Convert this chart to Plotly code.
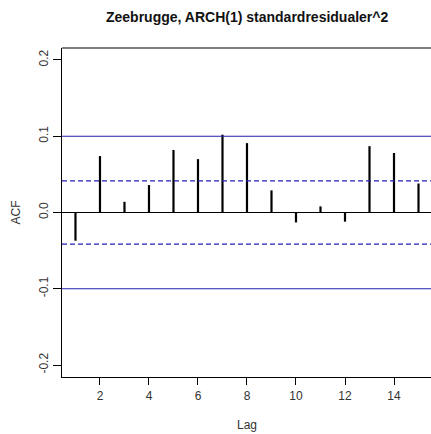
import plotly.graph_objects as go

# Sample autocorrelations of squared standardized ARCH(1) residuals
lags = list(range(1, 16))
acf_vals = [-0.037, 0.074, 0.014, 0.036, 0.082, 0.070, 0.102, 0.091,
            0.029, -0.013, 0.008, -0.012, 0.087, 0.078, 0.038]
ci_band = 0.0415          # approximate 95% white-noise bound
ref_band = 0.1            # solid reference lines
y_ticks = [-0.2, -0.1, 0.0, 0.1, 0.2]
y_tick_text = ["-0.2", "-0.1", "0.0", "0.1", "0.2"]
x_ticks = [2, 4, 6, 8, 10, 12, 14]

# Vertical spikes from zero to each autocorrelation
xs, ys = [], []
for lag, v in zip(lags, acf_vals):
    xs += [lag, lag, None]
    ys += [0, v, None]

fig = go.Figure()
fig.add_trace(go.Scatter(x=xs, y=ys, mode="lines",
                         line=dict(color="black", width=2.2),
                         hoverinfo="skip", showlegend=False))

blue = "#2020b0"
shapes = [
    # top border of the plot box
    dict(type="line", xref="paper", x0=0, x1=1, yref="paper", y0=1, y1=1,
         line=dict(color="black", width=1.2)),
    dict(type="line", xref="paper", x0=0, x1=1, yref="y", y0=0, y1=0,
         line=dict(color="black", width=1)),
]
for s in (1, -1):
    shapes.append(dict(type="line", xref="paper", x0=0, x1=1, yref="y",
                       y0=s * ref_band, y1=s * ref_band,
                       line=dict(color=blue, width=1.2)))
    shapes.append(dict(type="line", xref="paper", x0=0, x1=1, yref="y",
                       y0=s * ci_band, y1=s * ci_band,
                       line=dict(color=blue, width=1.2, dash="5px,3px")))

font = "Liberation Sans, Arial, sans-serif"

fig.update_layout(
    width=431, height=434,
    margin=dict(l=62, r=0, t=48, b=57),
    paper_bgcolor="white", plot_bgcolor="white",
    shapes=shapes,
    font=dict(family=font, size=12, color="#222222"),
    xaxis=dict(range=[0.45, 15.51], tickmode="array", tickvals=x_ticks,
               ticks="outside", ticklen=7, tickcolor="black", tickwidth=1,
               showline=True, linecolor="black", linewidth=1.2, mirror=False,
               showgrid=False, zeroline=False,
               tickfont=dict(family=font, size=12, color="#333333")),
    yaxis=dict(range=[-0.2157, 0.2157], tickmode="array", tickvals=y_ticks,
               ticktext=y_tick_text, tickangle=-90,
               ticks="outside", ticklen=8, tickcolor="black", tickwidth=1,
               showline=True, linecolor="black", linewidth=1.2, mirror=False,
               showgrid=False, zeroline=False,
               tickfont=dict(family=font, size=12, color="#333333")),
    annotations=[
        dict(text="<b>Zeebrugge, ARCH(1) standardresidualer^2</b>",
             xref="paper", yref="paper", x=0.5, y=1, yshift=31,
             xanchor="center", yanchor="middle", showarrow=False,
             font=dict(family=font, size=14, color="#111111")),
        dict(text="Lag", xref="paper", yref="paper", x=0.5, y=0, yshift=-48,
             xanchor="center", yanchor="middle", showarrow=False,
             font=dict(family=font, size=12, color="#333333")),
        dict(text="ACF", xref="paper", yref="paper", x=0, y=0.5, xshift=-47,
             xanchor="center", yanchor="middle", textangle=-90,
             showarrow=False, font=dict(family=font, size=12, color="#333333")),
    ],
)

fig.write_html("out.html")
